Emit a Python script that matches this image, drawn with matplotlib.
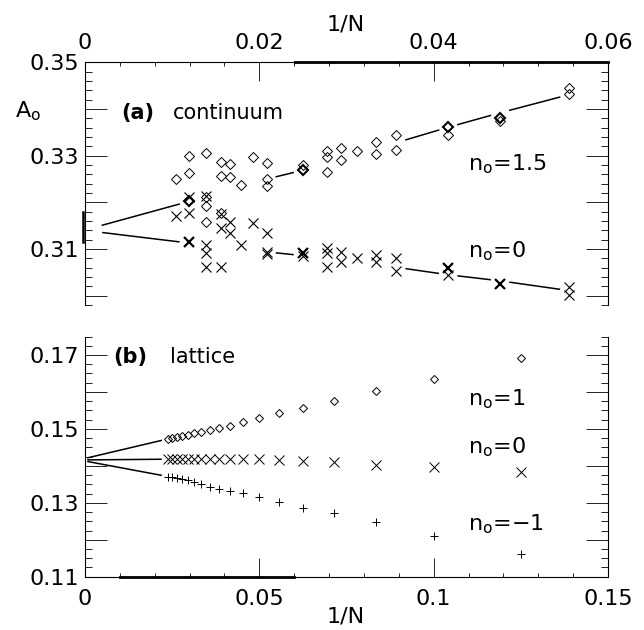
import numpy as np
import matplotlib.pyplot as plt
from matplotlib.ticker import MultipleLocator, FixedLocator

plt.rcParams['font.family'] = ['DejaVu Sans']
plt.rcParams['mathtext.default'] = 'regular'

W, H = 644, 630

# ---- (a) continuum: scattered estimates of A0 vs 1/N ----
# n0 = 1.5 (diamonds)
cont_d_N = [96, 84, 84, 72, 72, 72, 72, 64, 64, 64, 60, 60, 56, 52, 48, 48, 48,
            40, 36, 36, 36, 34, 34, 32, 30, 30, 28, 28, 24, 21, 18, 18]
cont_d_A = [0.3250, 0.3300, 0.3264, 0.3305, 0.3211, 0.3192, 0.3157, 0.3287, 0.3257,
            0.3177, 0.3282, 0.3254, 0.3237, 0.3298, 0.3285, 0.3250, 0.3236,
            0.3280, 0.3311, 0.3298, 0.3266, 0.3316, 0.3291, 0.3311, 0.3330, 0.3304,
            0.3344, 0.3312, 0.3344, 0.3375, 0.3445, 0.3432]
cont_d_bold_N = [84, 40, 24, 21]
cont_d_bold_A = [0.3202, 0.3269, 0.3362, 0.3380]
# n0 = 0 (crosses)
cont_x_N = [96, 84, 84, 72, 72, 72, 72, 64, 64, 64, 60, 60, 56, 52, 48, 48, 48,
            40, 36, 36, 36, 34, 34, 32, 30, 30, 28, 28, 24, 18, 18]
cont_x_A = [0.3171, 0.3178, 0.3212, 0.3213, 0.3109, 0.3092, 0.3061, 0.3175, 0.3145,
            0.3062, 0.3159, 0.3134, 0.3109, 0.3155, 0.3134, 0.3094, 0.3090,
            0.3086, 0.3102, 0.3091, 0.3062, 0.3094, 0.3073, 0.3080, 0.3087, 0.3073,
            0.3080, 0.3052, 0.3044, 0.3019, 0.3002]
cont_x_bold_N = [84, 40, 24, 21]
cont_x_bold_A = [0.3116, 0.3092, 0.3059, 0.3026]
# fitted curves (node 0 is the 1/N -> 0 extrapolation)
fit_inv_N = [0, 1/84, 1/48, 1/40, 1/28, 1/24, 1/21, 1/18]
fit_d_A = [0.3141, 0.3202, 0.3250, 0.3269, 0.3328, 0.3361, 0.3392, 0.3431]
fit_x_A = [0.3140, 0.3113, 0.3094, 0.3086, 0.3061, 0.3045, 0.3032, 0.3011]
fit_segments = [(0, 1), (2, 3), (4, 5), (5, 6), (6, 7)]
cont_a0_range = [0.3116, 0.3180]

# ---- (b) lattice ----
lat_N = [8, 10, 12, 14, 16, 18, 20, 22, 24, 26, 28, 30, 32, 34, 36, 38, 40, 42]
lat_n1 = [0.1691, 0.1635, 0.1603, 0.1576, 0.1557, 0.1542, 0.1530, 0.1518, 0.1509,
          0.1503, 0.1497, 0.1492, 0.1488, 0.1484, 0.1481, 0.1478, 0.1476, 0.1473]
lat_n0 = [0.1384, 0.1398, 0.1402, 0.1410, 0.1414, 0.1416, 0.1418, 0.1418, 0.1418,
          0.1418, 0.1418, 0.1418, 0.1418, 0.1418, 0.1418, 0.1418, 0.1418, 0.1418]
lat_nm1 = [0.1161, 0.1211, 0.1247, 0.1272, 0.1287, 0.1303, 0.1317, 0.1326, 0.1331,
           0.1337, 0.1344, 0.1351, 0.1357, 0.1362, 0.1365, 0.1368, 0.1370, 0.1371]
lat_a0 = [0.1420, 0.1416, 0.1413]   # extrapolations for n0 = 1, 0, -1


def fpos(x, y):
    return x / W, 1 - y / H


def draw_fit(ax, xs, ys, segs, gap0=18, gap=10, **kw):
    for i, j in segs:
        p = ax.transData.transform([(xs[i], ys[i]), (xs[j], ys[j])])
        d = p[1] - p[0]
        u = d / np.hypot(*d)
        a = p[0] + u * (gap0 if i == 0 else gap)
        b = p[1] - u * gap
        q = ax.transData.inverted().transform([a, b])
        ax.plot(q[:, 0], q[:, 1], **kw)


fig = plt.figure(figsize=(W / 100, H / 100), dpi=100)
ax1 = fig.add_axes([85 / W, 1 - 305.1 / H, 523 / W, 242.7 / H])
ax2 = fig.add_axes([85 / W, 1 - 576.7 / H, 523 / W, 240.2 / H])

# ---- top panel ----
ax1.set_xlim(0, 0.06)
ax1.set_ylim(0.298, 0.35)
inv = lambda n: 1 / np.asarray(n, dtype=float)
ax1.plot(inv(cont_d_N), cont_d_A, ls='none', marker='D', ms=4.6, mfc='none',
         mec='k', mew=0.7)
ax1.plot(inv(cont_d_bold_N), cont_d_bold_A, ls='none', marker='D', ms=4.6,
         mfc='none', mec='k', mew=1.5)
ax1.plot(inv(cont_x_N), cont_x_A, ls='none', marker='x', ms=7, mec='k', mew=0.8)
ax1.plot(inv(cont_x_bold_N), cont_x_bold_A, ls='none', marker='x', ms=7,
         mec='k', mew=1.6)
draw_fit(ax1, fit_inv_N, fit_d_A, fit_segments, color='k', lw=1.1)
draw_fit(ax1, fit_inv_N, fit_x_A, fit_segments, color='k', lw=1.1)
ax1.plot([-0.0002, -0.0002], cont_a0_range, color='k', lw=1.8, clip_on=False)
ax1.plot([0.0241, 0.06], [0.35, 0.35], color='k', lw=2.0, clip_on=False)

ax1.spines['bottom'].set_visible(False)
ax1.xaxis.tick_top()
ax1.xaxis.set_major_locator(FixedLocator([0, 0.02, 0.04, 0.06]))
ax1.set_xticklabels(['0', '0.02', '0.04', '0.06'])
ax1.xaxis.set_minor_locator(MultipleLocator(0.004))
ax1.set_yticks([0.30, 0.31, 0.32, 0.33, 0.34, 0.35])
ax1.set_yticklabels(['', '0.31', '', '0.33', '', '0.35'])
ax1.yaxis.set_minor_locator(MultipleLocator(0.002))
ax1.tick_params(axis='x', which='both', direction='in', top=True, bottom=False,
                labeltop=True, labelbottom=False, labelsize=16, pad=7)
ax1.tick_params(axis='x', which='major', length=14, width=0.6)
ax1.tick_params(axis='x', which='minor', length=3, width=0.6)
ax1.tick_params(axis='y', which='both', direction='in', left=True, right=True,
                labelsize=16, pad=4)
ax1.tick_params(axis='y', which='major', length=16, width=0.6)
ax1.tick_params(axis='y', which='minor', length=5, width=0.6)

# ---- bottom panel ----
ax2.set_xlim(0, 0.15)
ax2.set_ylim(0.11, 0.175)
ax2.plot(inv(lat_N), lat_n1, ls='none', marker='D', ms=4.2, mfc='none', mec='k', mew=0.7)
ax2.plot(inv(lat_N), lat_n0, ls='none', marker='x', ms=6.5, mec='k', mew=0.7)
ax2.plot(inv(lat_N), lat_nm1, ls='none', marker='+', ms=5.5, mec='k', mew=0.7)
for a0, ys in zip(lat_a0, [lat_n1, lat_n0, lat_nm1]):
    draw_fit(ax2, [0, 1 / lat_N[-1]], [a0, ys[-1]], [(0, 1)], gap0=3, gap=7,
             color='k', lw=1.1)
ax2.plot([0.01, 0.06], [0.11, 0.11], color='k', lw=2.0, clip_on=False)

ax2.spines['top'].set_visible(False)
ax2.xaxis.set_major_locator(FixedLocator([0, 0.05, 0.1, 0.15]))
ax2.set_xticklabels(['0', '0.05', '0.1', '0.15'])
ax2.xaxis.set_minor_locator(MultipleLocator(0.01))
ax2.set_yticks([0.11, 0.12, 0.13, 0.14, 0.15, 0.16, 0.17])
ax2.set_yticklabels(['0.11', '', '0.13', '', '0.15', '', '0.17'])
ax2.yaxis.set_minor_locator(MultipleLocator(0.0025))
ax2.tick_params(axis='x', which='both', direction='in', top=False, bottom=True,
                labelsize=16, pad=9)
ax2.tick_params(axis='x', which='major', length=14, width=0.6)
ax2.tick_params(axis='x', which='minor', length=3, width=0.6)
ax2.tick_params(axis='y', which='both', direction='in', left=True, right=True,
                labelsize=16, pad=4)
ax2.tick_params(axis='y', which='major', length=16, width=0.6)
ax2.tick_params(axis='y', which='minor', length=5, width=0.6)

for ax in (ax1, ax2):
    for sp in ax.spines.values():
        sp.set_linewidth(0.8)

# ---- labels ----
fig.text(*fpos(346, 24), '1/N', fontsize=16, ha='center', va='center')
fig.text(*fpos(346, 616), '1/N', fontsize=16, ha='center', va='center')
fig.text(*fpos(15, 117), '$A_o$', fontsize=16, ha='left', va='baseline')

fig.text(*fpos(121, 119), '(a)', fontsize=15, fontweight='bold', va='baseline')
fig.text(*fpos(173, 119), 'continuum', fontsize=15, va='baseline')
fig.text(*fpos(113, 363), '(b)', fontsize=15, fontweight='bold', va='baseline')
fig.text(*fpos(170, 363), 'lattice', fontsize=15, va='baseline')

for lab, y in [('$n_o$=1.5', 170), ('$n_o$=0', 257), ('$n_o$=1', 405),
               ('$n_o$=0', 453), ('$n_o$=\u22121', 530)]:
    fig.text(*fpos(468, y), lab, fontsize=16, va='baseline')

fig.savefig('out.png', dpi=100, facecolor='white')
